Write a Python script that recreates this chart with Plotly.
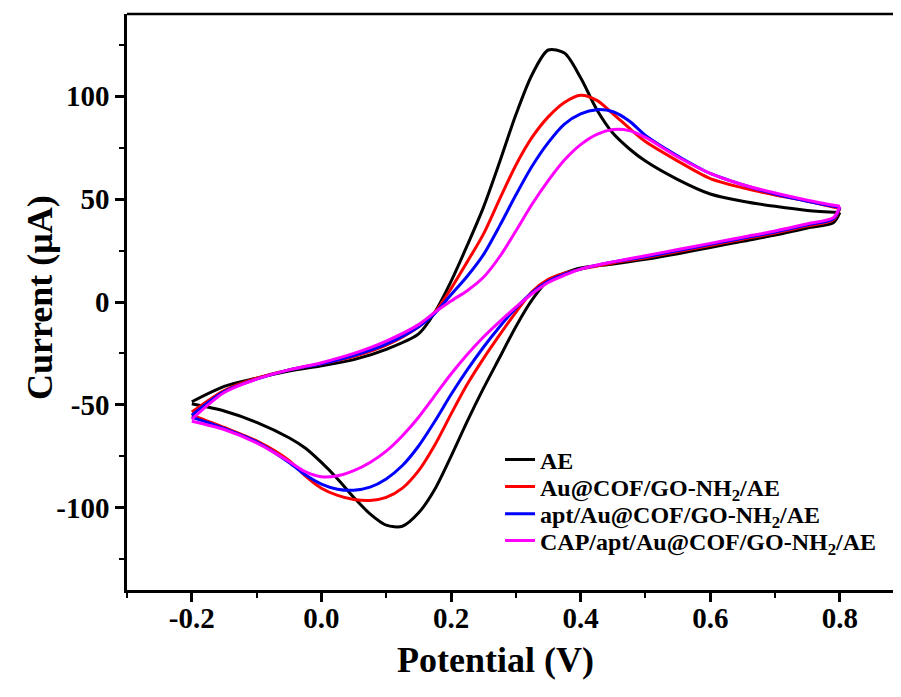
import plotly.graph_objects as go

# ---------------- data ----------------
potential_fwd = [-0.2, -0.15, -0.1, -0.05, 0.0, 0.05, 0.1, 0.15, 0.175, 0.2, 0.225, 0.25,
                 0.275, 0.3, 0.325, 0.35, 0.375, 0.4, 0.425, 0.45, 0.475, 0.5, 0.55, 0.6,
                 0.65, 0.7, 0.75, 0.8]
potential_rev = [0.8, 0.79, 0.75, 0.7, 0.65, 0.6, 0.55, 0.5, 0.45, 0.4, 0.375, 0.35, 0.325,
                 0.3, 0.275, 0.25, 0.225, 0.2, 0.175, 0.15, 0.125, 0.1, 0.075, 0.05, 0.025,
                 0.0, -0.025, -0.05, -0.1, -0.15, -0.2]

ae_fwd = [-48.5, -41, -37, -33.5, -31, -28, -23, -15.5, -5, 10, 27.5, 46, 68, 91, 110.5,
          122.5, 121, 109, 93.5, 82, 74.5, 68.5, 59.5, 52.5, 49, 46.5, 44.5, 43.5]
ae_rev = [43.5, 38.5, 36, 32.5, 29.5, 26.5, 23.5, 20.8, 18.5, 16.5, 14, 10.5, 1, -12, -27,
          -42, -58, -75, -91, -102.5, -109, -108.5, -103, -95, -86, -78, -71, -66, -58.5,
          -53, -49.5]

au_fwd = [-53.5, -43, -37, -33, -30, -26.5, -21, -12, -5, 6.5, 19.5, 33, 50, 66.5, 80,
          90, 97, 100.5, 98, 91.5, 84.5, 78, 68.5, 60, 55.5, 52, 49, 45.5]
au_rev = [45.5, 40, 37, 33.5, 30.5, 27.5, 24.5, 21.5, 19, 16, 14, 11, 5, -5, -16, -27.5,
          -40, -54.5, -69.5, -82, -90.5, -95, -96.5, -96, -94, -90.5, -84.5, -77, -67.5,
          -61, -55]

apt_fwd = [-55, -43.5, -37.5, -33, -30, -26, -20.5, -12, -5.5, 3.5, 12.5, 23, 37, 52, 66,
           77.5, 86.5, 91.5, 93.5, 92.5, 88, 81, 71, 62.5, 57, 52.5, 49, 46]
apt_rev = [46, 40.5, 37.5, 34, 31, 28, 25, 22, 19.5, 16, 13.5, 10, 4.5, -3, -12, -22, -33,
           -45, -58, -70, -79.5, -86, -90, -91.5, -91, -88.5, -84, -78, -68, -61.5, -56]

cap_fwd = [-57, -44, -37.5, -33, -29.5, -25, -19, -11, -5, 0.5, 5.5, 12, 22, 34.5, 47.5,
           59, 69, 76.5, 81.5, 83.8, 83.3, 80, 70.5, 62.5, 57, 53, 49.5, 46.5]
cap_rev = [46.5, 41, 38, 34.5, 31.5, 28.5, 25.5, 22.5, 19.5, 16, 13, 9.5, 4, -2.5, -9.5,
           -17, -25.5, -35, -45.5, -56, -65, -72.5, -78, -82, -84.5, -85, -82.5, -77.5,
           -68.5, -62, -58]

series_names = ["AE", "Au@COF/GO-NH<sub>2</sub>/AE", "apt/Au@COF/GO-NH<sub>2</sub>/AE",
                "CAP/apt/Au@COF/GO-NH<sub>2</sub>/AE"]
series_colors = ["#000000", "#FF0000", "#0000FF", "#FF00FF"]
series_fwd = [ae_fwd, au_fwd, apt_fwd, cap_fwd]
series_rev = [ae_rev, au_rev, apt_rev, cap_rev]

x_tick_vals = [-0.2, 0.0, 0.2, 0.4, 0.6, 0.8]
x_tick_text = ["-0.2", "0.0", "0.2", "0.4", "0.6", "0.8"]
y_tick_vals = [-100, -50, 0, 50, 100]
y_tick_text = ["-100", "-50", "0", "50", "100"]
x_title = "Potential (V)"
y_title = "Current (μA)"

FONT = "Liberation Serif, Times New Roman, serif"

legend_ids = ["legend", "legend2", "legend3", "legend4"]
legend_y = [0.2257, 0.1788, 0.1319, 0.0851]   # one entry per legend box, stacked

fig = go.Figure()
for name, color, fwd, rev, lg in zip(series_names, series_colors, series_fwd, series_rev,
                                     legend_ids):
    fig.add_trace(go.Scatter(x=potential_fwd, y=fwd, mode="lines", name=name,
                             legendgroup=name, showlegend=True, legend=lg,
                             line=dict(color=color, width=3, shape="spline", smoothing=0.8)))
    fig.add_trace(go.Scatter(x=potential_rev, y=rev, mode="lines", name=name,
                             legendgroup=name, showlegend=False, legend=lg,
                             line=dict(color=color, width=3, shape="spline", smoothing=0.8)))

axis_common = dict(
    showline=True, linewidth=2.5, linecolor="black", showgrid=False, zeroline=False,
    ticks="outside", ticklen=9, tickwidth=2.5, tickcolor="black",
    tickfont=dict(family=FONT, size=29, color="black", weight="bold"),
)

legend_style = dict(x=0.487, xanchor="left", yanchor="middle",
                    bgcolor="rgba(0,0,0,0)", borderwidth=0,
                    font=dict(family=FONT, size=24, color="black", weight="bold"))

# the page body has an 8px margin on every side; size the figure to fit the window
fig.update_layout(
    width=885, height=681,
    margin=dict(l=119, r=0, t=6, b=99),
    paper_bgcolor="white", plot_bgcolor="white",
    font=dict(family=FONT, color="black"),
    xaxis=dict(
        range=[-0.3, 0.882], tickvals=x_tick_vals, ticktext=x_tick_text,
        ticklabelstandoff=-9,
        minor=dict(dtick=0.1, tick0=0, ticks="outside", ticklen=5, tickwidth=2,
                   tickcolor="black"),
        **axis_common),
    yaxis=dict(
        range=[-140, 140], tickvals=y_tick_vals, ticktext=y_tick_text,
        minor=dict(dtick=25, tick0=0, ticks="outside", ticklen=5, tickwidth=2,
                   tickcolor="black"),
        **axis_common),
    legend=dict(y=legend_y[0], **legend_style),
    legend2=dict(y=legend_y[1], **legend_style),
    legend3=dict(y=legend_y[2], **legend_style),
    legend4=dict(y=legend_y[3], **legend_style),
    shapes=[dict(type="line", xref="paper", yref="paper", x0=0, x1=1, y0=1, y1=1,
                 line=dict(color="black", width=2.5))],
    annotations=[
        dict(text=x_title, xref="paper", yref="paper", x=0.4817, y=-0.1215,
             xanchor="center", yanchor="middle", showarrow=False,
             font=dict(family=FONT, size=36, color="black", weight="bold")),
        dict(text=y_title, xref="paper", yref="paper", x=-0.1136, y=0.5087,
             xanchor="center", yanchor="middle", showarrow=False, textangle=-90,
             font=dict(family=FONT, size=36, color="black", weight="bold")),
    ],
    showlegend=True,
)

fig.write_html("out.html")
